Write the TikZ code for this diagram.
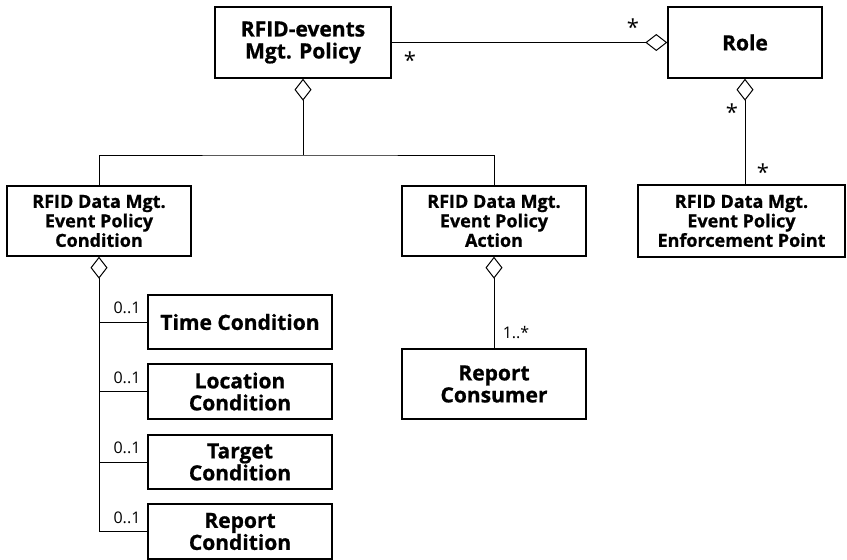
\documentclass[tikz,border=0pt]{standalone}
\usepackage{fontspec}
\setmainfont{Open Sans}[BoldFeatures={FakeBold=0.8}]
\usetikzlibrary{arrows.meta}
\tikzset{
  cls/.style={draw, line width=1.4pt, fill=white, align=center, inner sep=0pt,
    font=\bfseries\fontsize{18}{19.5}\selectfont},
  big/.style={font=\bfseries\fontsize{21}{22}\selectfont},
  conn/.style={line width=1pt},
  agg/.style={conn, {Diamond[open, fill=white, length=22pt, width=17pt, line width=1pt]}-},
  mult/.style={font=\fontsize{22}{22}\selectfont, inner sep=0pt},
  multsm/.style={font=\fontsize{16}{16}\selectfont, inner sep=0pt}
}
\begin{document}
\begin{tikzpicture}[x=1pt,y=-1pt]
\useasboundingbox (0,0) rectangle (847,560);
\node[cls, big, minimum width=176pt, minimum height=71pt] (top) at (303,42.5) {RFID-events\\Mgt. Policy};
\node[cls, big, minimum width=154pt, minimum height=71pt] (role) at (745,42.5) {Role};
\node[cls, minimum width=184pt, minimum height=70pt] (cond) at (99,221) {RFID Data Mgt.\\Event Policy\\Condition};
\node[cls, minimum width=184pt, minimum height=70pt] (action) at (494,221) {RFID Data Mgt.\\Event Policy\\Action};
\node[cls, minimum width=207pt, minimum height=72pt] (ep) at (741.5,221) {RFID Data Mgt.\\Event Policy\\Enforcement Point};
\node[cls, big, minimum width=184pt, minimum height=54pt] (time) at (240,322) {Time Condition};
\node[cls, big, minimum width=184pt, minimum height=55pt] (loc) at (240,391.5) {Location\\Condition};
\node[cls, big, minimum width=184pt, minimum height=54pt] (target) at (240,462) {Target\\Condition};
\node[cls, big, minimum width=184pt, minimum height=55pt] (rcond) at (240,531.5) {Report\\Condition};
\node[cls, big, minimum width=184pt, minimum height=70pt] (consumer) at (494,384) {Report\\Consumer};

\coordinate (j) at (303,155);
\draw[agg] (role.west) -- (top.east);
\draw[agg] (top.south) -- (j);
\draw[conn] (cond.north) |- (j) -| (action.north);
\draw[agg] (cond.south) |- (rcond.west);
\draw[conn] (cond.south |- time.west) -- (time.west);
\draw[conn] (cond.south |- loc.west) -- (loc.west);
\draw[conn] (cond.south |- target.west) -- (target.west);
\draw[agg] (action.south) -- (consumer.north);
\draw[agg] (role.south) -- (role.south |- ep.north);

\node[mult] (s1) at (410,60) {*};
\node[mult] (s2) at (633,27) {*};
\node[mult] (s3) at (732,112) {*};
\node[mult] (s4) at (763,172) {*};
\node[multsm] (m1) at (127,308) {0..1};
\node[multsm] (m2) at (127,378) {0..1};
\node[multsm] (m3) at (127,448) {0..1};
\node[multsm] (m4) at (127,518) {0..1};
\node[multsm] (m5) at (516,333) {1..*};
\end{tikzpicture}
\end{document}
